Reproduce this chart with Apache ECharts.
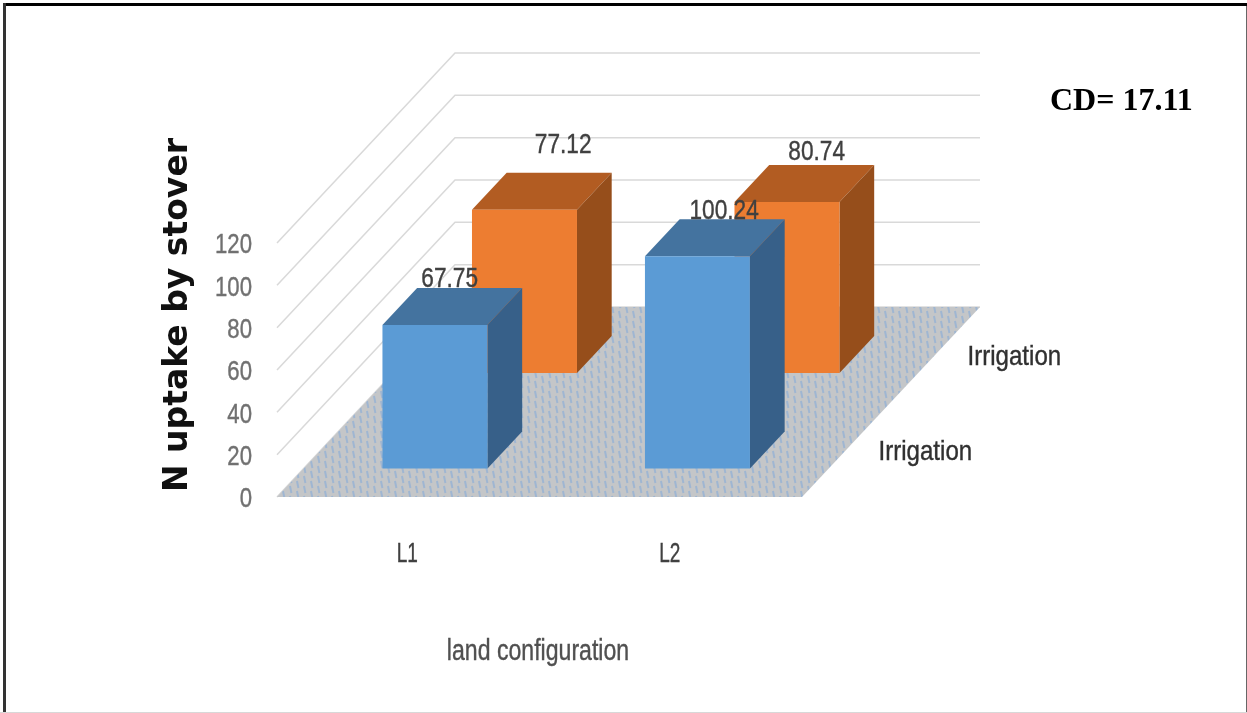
<!DOCTYPE html>
<html>
<head>
<meta charset="utf-8">
<style>html,body{margin:0;padding:0;background:#fff}#chart{width:1247px;height:713px}</style>
<script src="https://cdn.jsdelivr.net/npm/echarts@6/dist/echarts.min.js"></script>
</head>
<body>
<div id="chart"></div>
<script>
// N uptake by stover: values per land configuration and irrigation level
const landConfigurations = ['L1', 'L2'];
const frontIrrigation = [67.75, 100.24];
const backIrrigation = [77.12, 80.74];
const depthCategories = ['Irrigation', 'Irrigation'];
const valueTicks = [0, 20, 40, 60, 80, 100, 120];

// Oblique projection of the depth axis, in pixels from floor front to floor back
const DEPTH = { x: 178, y: -190 };
const BAR_DEPTH = 0.195;
const BAR_WIDTH_SHARE = 0.4;
const SANS = '"Liberation Sans", sans-serif';

const palette = {
  front: { face: '#5b9bd5', top: '#44739f', side: '#376089' },
  back: { face: '#ed7d31', top: '#b25c22', side: '#964e1b' }
};

// Streaked tile for the chart floor
function floorTile() {
  const c = document.createElement('canvas');
  c.width = 14; c.height = 10;
  const g = c.getContext('2d');
  g.fillStyle = '#c4c6c8';
  g.fillRect(0, 0, 14, 10);
  g.strokeStyle = '#9fb6d2';
  g.lineWidth = 2;
  g.lineCap = 'butt';
  g.beginPath();
  [[3, 1], [10, 6]].forEach(function (s) {
    g.moveTo(s[0], s[1]);
    g.lineTo(s[0] + 1.4, s[1] + 7);
  });
  g.moveTo(10, -4); g.lineTo(11.4, 3);
  g.stroke();
  return c;
}
const floorPattern = { image: floorTile(), repeat: 'repeat' };

function project(p, d) {
  return [p[0] + DEPTH.x * d, p[1] + DEPTH.y * d];
}

// Condensed text element: the stock faces are wider than the chart's lettering
function squeezedText(text, x, y, size, squeeze, fill, align) {
  return {
    type: 'text',
    x: x,
    y: y,
    scaleX: squeeze,
    style: {
      text: text,
      fill: fill,
      stroke: fill,
      lineWidth: 0.4,
      font: size + 'px ' + SANS,
      align: align || 'center',
      verticalAlign: 'middle'
    }
  };
}

function renderWall(params, api) {
  const cs = params.coordSys;
  const y = api.coord([0, api.value(0)])[1];
  const a = [cs.x, y];
  const b = project(a, 1);
  const c = [b[0] + cs.width, b[1]];
  return {
    type: 'polyline',
    shape: { points: [a, b, c] },
    style: { fill: null, stroke: '#d9d9d9', lineWidth: 1.5 }
  };
}

function renderFloor(params) {
  const cs = params.coordSys;
  const y = cs.y + cs.height;
  const a = [cs.x, y], b = [cs.x + cs.width, y];
  return {
    type: 'polygon',
    shape: { points: [a, b, project(b, 1), project(a, 1)] },
    style: { fill: floorPattern, stroke: null }
  };
}

// Draws a box with its front face at depth d0 on the floor
function boxRenderer(colors, d0) {
  return function (params, api) {
    const cat = api.value(0);
    const val = api.value(1);
    const w = api.size([1, 0])[0] * BAR_WIDTH_SHARE;
    const base = api.coord([cat, 0]);
    const top = api.coord([cat, val]);
    const fl = project([base[0] - w / 2, base[1]], d0);
    const fr = project([base[0] + w / 2, base[1]], d0);
    const tl = project([top[0] - w / 2, top[1]], d0);
    const tr = project([top[0] + w / 2, top[1]], d0);
    const back = p => project(p, BAR_DEPTH);
    return {
      type: 'group',
      children: [
        { type: 'polygon', shape: { points: [tl, tr, back(tr), back(tl)] }, style: { fill: colors.top } },
        { type: 'polygon', shape: { points: [fr, back(fr), back(tr), tr] }, style: { fill: colors.side } },
        { type: 'polygon', shape: { points: [fl, fr, tr, tl] }, style: { fill: colors.face } }
      ]
    };
  };
}

// Value printed above the rear edge of each box's top face
function labelRenderer(d0, nudges) {
  return function (params, api) {
    const i = params.dataIndex;
    const top = api.coord([api.value(0), api.value(1)]);
    const p = project(project(top, d0), BAR_DEPTH);
    return squeezedText(api.value(1).toFixed(2), p[0] + nudges[i][0], p[1] + nudges[i][1], 28, 0.81, '#404040');
  };
}

// Value-axis tick labels, right-aligned left of the floor corner
function renderValueTick(params, api) {
  const v = api.value(0);
  const y = api.coord([0, v])[1];
  return squeezedText(String(v), params.coordSys.x - 25, y + 3, 27, 0.82, '#707070', 'right');
}

// Category labels under the floor
function renderCategory(params, api) {
  const cs = params.coordSys;
  const x = api.coord([api.value(0), 0])[0];
  return squeezedText(landConfigurations[params.dataIndex], x - 1, cs.y + cs.height + 57, 28, 0.68, '#404040');
}

// Depth-axis category names, placed past the right edge of the floor
function renderDepthLabel(params, api) {
  const cs = params.coordSys;
  const p = project([cs.x + cs.width, cs.y + cs.height], api.value(0));
  return squeezedText(depthCategories[params.dataIndex], p[0] + 32, p[1] + 3, 28, 0.86, '#303030', 'left');
}

const toPairs = values => values.map((v, i) => [i, v]);
const FRONT_D = 0.15;
const BACK_D = 0.653;

const chart = echarts.init(document.getElementById('chart'), null, { renderer: 'canvas' });
chart.setOption({
  animation: false,
  backgroundColor: '#fff',
  grid: { left: 277, top: 243, width: 525, height: 254 },
  xAxis: {
    type: 'category',
    data: landConfigurations,
    axisLine: { show: false },
    axisTick: { show: false },
    axisLabel: { show: false }
  },
  yAxis: {
    type: 'value',
    min: 0,
    max: 120,
    interval: 20,
    splitLine: { show: false },
    axisLine: { show: false },
    axisTick: { show: false },
    axisLabel: { show: false },
    name: 'N uptake by stover',
    nameLocation: 'middle',
    nameGap: 82,
    nameRotate: 90,
    nameTextStyle: {
      color: '#111',
      fontFamily: '"DejaVu Sans", sans-serif',
      fontWeight: 'bold',
      fontSize: 33,
      padding: [0, 0, 0, 110]
    }
  },
  graphic: [
    { type: 'text', x: 1050, y: 102, style: { text: 'CD= 17.11', fill: '#000', font: 'bold 32px "Liberation Serif", serif', verticalAlign: 'middle' } },
    { type: 'text', x: 538, y: 652, scaleX: 0.77, style: { text: 'land configuration', fill: '#505050', stroke: '#505050', lineWidth: 0.4, font: '30px ' + SANS, align: 'center', verticalAlign: 'middle' } },
    { type: 'rect', shape: { x: 3, y: 3, width: 1244, height: 3 }, style: { fill: '#000' } },
    { type: 'rect', shape: { x: 3, y: 3, width: 3, height: 710 }, style: { fill: '#333' } },
    { type: 'rect', shape: { x: 1246, y: 6, width: 1, height: 707 }, style: { fill: '#666' } },
    { type: 'rect', shape: { x: 0, y: 712, width: 1247, height: 1 }, style: { fill: '#d8d8d8' } }
  ],
  series: [
    { name: 'Walls', type: 'custom', z: 1, clip: false, silent: true, data: valueTicks.map(v => [v]), renderItem: renderWall },
    { name: 'Floor', type: 'custom', z: 2, clip: false, silent: true, data: [[0]], renderItem: renderFloor },
    { name: 'Irrigation (rear)', type: 'custom', z: 3, clip: false, data: toPairs(backIrrigation), renderItem: boxRenderer(palette.back, BACK_D), encode: { x: 0, y: 1 } },
    { name: 'Irrigation (front)', type: 'custom', z: 4, clip: false, data: toPairs(frontIrrigation), renderItem: boxRenderer(palette.front, FRONT_D), encode: { x: 0, y: 1 } },
    { name: 'Rear values', type: 'custom', z: 5, clip: false, silent: true, data: toPairs(backIrrigation), renderItem: labelRenderer(BACK_D, [[4, -27], [-5, -13]]), encode: { x: 0, y: 1 } },
    { name: 'Front values', type: 'custom', z: 5, clip: false, silent: true, data: toPairs(frontIrrigation), renderItem: labelRenderer(FRONT_D, [[-20, -9], [-8, -8]]), encode: { x: 0, y: 1 } },
    { name: 'Value ticks', type: 'custom', z: 5, clip: false, silent: true, data: valueTicks.map(v => [v]), renderItem: renderValueTick },
    { name: 'Categories', type: 'custom', z: 5, clip: false, silent: true, data: landConfigurations.map((c, i) => [i]), renderItem: renderCategory },
    { name: 'Depth names', type: 'custom', z: 5, clip: false, silent: true, data: [[0.25], [0.75]], renderItem: renderDepthLabel }
  ]
});
</script>
</body>
</html>
